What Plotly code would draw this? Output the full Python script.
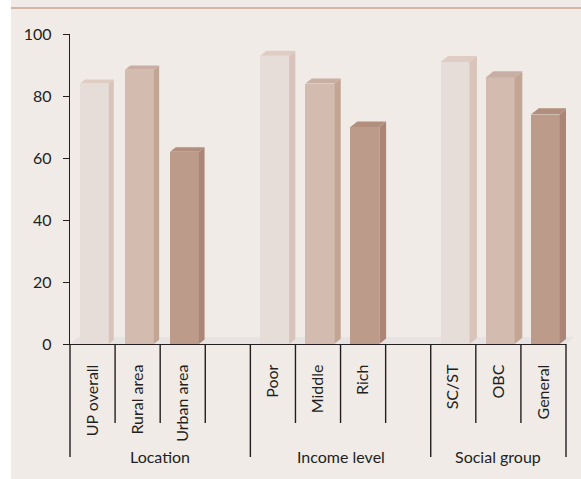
import plotly.graph_objects as go

# ---- data -------------------------------------------------------------
groups = ["Location", "Income level", "Social group"]
group_members = [
    ["UP overall", "Rural area", "Urban area"],
    ["Poor", "Middle", "Rich"],
    ["SC/ST", "OBC", "General"],
]
group_values = [
    [84, 88.5, 62],
    [93, 84, 70],
    [91, 86, 74],
]

# ---- styling ----------------------------------------------------------
W, H = 581, 479
ML, MR, MT, MB = 70, 15, 34, 135
PW, PH = W - ML - MR, H - MT - MB

PANEL = "#F0EBE7"
INK = "#231F20"
FONT = "Lato"
FRONT = ["#E6DDD8", "#D3BBAF", "#BC9B8B"]
SIDE = ["#D8C4BA", "#C3A594", "#AB8676"]
TOP = ["#DFCDC4", "#C9AFA3", "#B18E7D"]

BAR_W = 0.64
BAR_SHIFT = 0.04


def paper_x(px):
    return (px - ML) / PW


def paper_y(py):
    return (H - MB - py) / PH


# Lay out category slots: one empty slot between groups
slot_labels, xs, vals, shade = [], [], [], []
pos = 0
group_bounds = []
for gi, (members, values) in enumerate(zip(group_members, group_values)):
    start = pos
    for k, (name, v) in enumerate(zip(members, values)):
        slot_labels.append(name)
        xs.append(pos)
        vals.append(v)
        shade.append(k)
        pos += 1
    if gi < len(groups) - 1:
        slot_labels.append("")
        pos += 1
    group_bounds.append((start, pos))
n_slots = pos
x_min, x_max = -0.5, n_slots - 0.5
units_per_px_x = (x_max - x_min) / PW
units_per_px_y = 100 / PH

fig = go.Figure()

# 3D side and top faces of each bar
for x, v, s in zip(xs, vals, shade):
    depth_px = 5 + 3 * x / (n_slots - 1)
    dx = depth_px * units_per_px_x
    dy = 0.8 * depth_px * units_per_px_y
    xl = x + BAR_SHIFT - BAR_W / 2
    xr = x + BAR_SHIFT + BAR_W / 2
    fig.add_trace(go.Scatter(
        x=[xr, xr + dx, xr + dx, xr, xr],
        y=[0, dy, v + dy, v, 0],
        fill="toself", fillcolor=SIDE[s], mode="lines",
        line=dict(width=0), hoverinfo="skip", showlegend=False))
    fig.add_trace(go.Scatter(
        x=[xl, xl + dx, xr + dx, xr, xl],
        y=[v, v + dy, v + dy, v, v],
        fill="toself", fillcolor=TOP[s], mode="lines",
        line=dict(width=0), hoverinfo="skip", showlegend=False))

# Front faces
fig.add_trace(go.Bar(
    x=xs, y=vals, width=BAR_W, offset=BAR_SHIFT - BAR_W / 2,
    marker=dict(color=[FRONT[s] for s in shade], line=dict(width=0)),
    showlegend=False, hovertemplate="%{y}<extra></extra>"))

shapes = []
# white margin strip on the left
shapes.append(dict(type="rect", xref="paper", yref="paper",
                   x0=paper_x(-5), x1=paper_x(11), y0=paper_y(H + 5), y1=paper_y(-5),
                   fillcolor="white", line=dict(width=0), layer="below"))
# rule across the top
shapes.append(dict(type="line", xref="paper", yref="paper",
                   x0=paper_x(11), x1=paper_x(W + 2), y0=paper_y(8), y1=paper_y(8),
                   line=dict(color="#D3B4A5", width=2), layer="below"))
# floor under the bars
floor_dx = 8 / PW
floor_dy = 7 / PH
shapes.append(dict(type="path", xref="paper", yref="paper",
                   path=(f"M 0 0 L 1 0 L {1 + floor_dx} {floor_dy} "
                         f"L {floor_dx} {floor_dy} Z"),
                   fillcolor="#E6E3E2", line=dict(width=0), layer="below"))

# slot separators below the axis: long ones at group edges
group_edges = {0, n_slots} | {a for a, _ in group_bounds}
for k in range(n_slots + 1):
    y_end = 457 if k in group_edges else 423
    shapes.append(dict(type="line", xref="paper", yref="paper",
                       x0=k / n_slots, x1=k / n_slots,
                       y0=0, y1=paper_y(y_end),
                       line=dict(color=INK, width=1.4)))

annotations = []
for name, (a, b) in zip(groups, group_bounds):
    annotations.append(dict(
        text=name, xref="paper", yref="paper",
        x=(a + b) / 2 / n_slots, y=paper_y(456.5),
        xanchor="center", yanchor="middle", showarrow=False,
        font=dict(family=FONT, size=16, color=INK)))

fig.update_layout(
    width=W, height=H,
    margin=dict(l=ML, r=MR, t=MT, b=MB, pad=0),
    paper_bgcolor=PANEL, plot_bgcolor="rgba(0,0,0,0)",
    shapes=shapes, annotations=annotations,
    bargap=0,
    font=dict(family=FONT, size=16, color=INK),
    xaxis=dict(
        range=[x_min, x_max], tickmode="array",
        tickvals=list(range(n_slots)), ticktext=slot_labels,
        tickangle=-90, ticks="", showgrid=False, zeroline=False,
        showline=True, linecolor=INK, linewidth=1.4,
        ticklabelstandoff=13,
        tickfont=dict(family=FONT, size=16, color=INK),
        fixedrange=True),
    yaxis=dict(
        range=[0, 100], tickmode="array", tickvals=[0, 20, 40, 60, 80, 100],
        ticks="outside", ticklen=6, tickwidth=1.4, tickcolor=INK,
        showgrid=False, zeroline=False,
        showline=True, linecolor=INK, linewidth=1.4,
        ticklabelstandoff=8,
        tickfont=dict(family=FONT, size=16, color=INK),
        fixedrange=True),
)

fig.write_html("out.html")
